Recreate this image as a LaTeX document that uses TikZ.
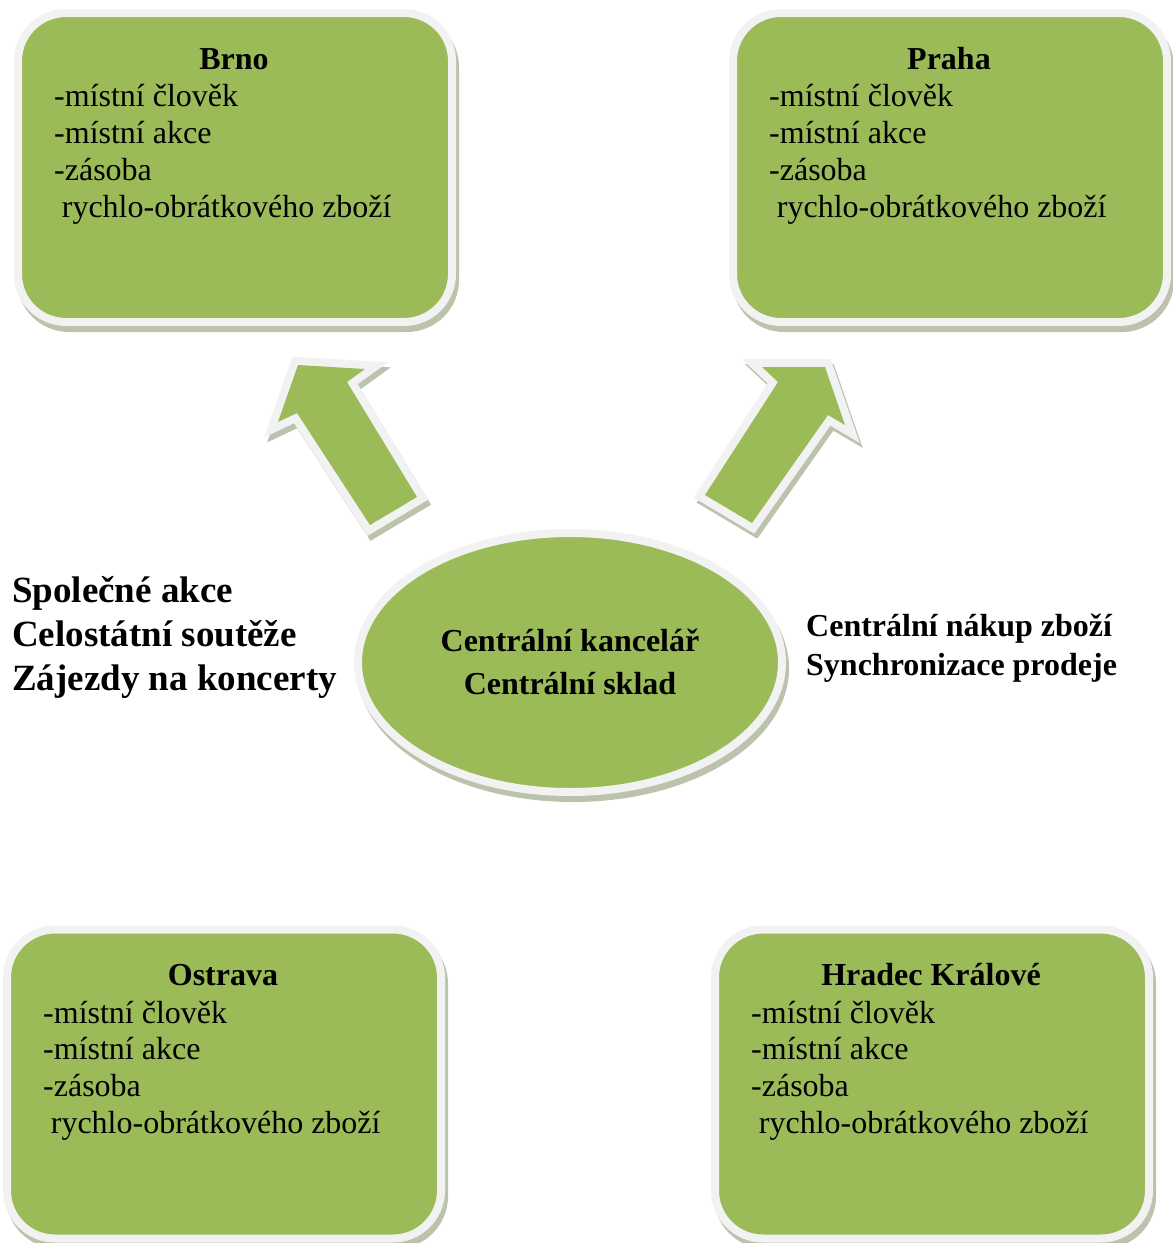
\documentclass[tikz,border=0pt]{standalone}
\usepackage{fontspec}
\setmainfont{Liberation Serif}
\usetikzlibrary{shapes.geometric,shadows}
\definecolor{cgreen}{HTML}{9BBB59}
\definecolor{cborder}{HTML}{F2F2F2}
\definecolor{cshadow}{HTML}{BCC3AD}
\begin{document}
\begin{tikzpicture}[x=1pt,y=-1pt,
  shadowed/.style={general shadow={fill=cshadow, draw=cshadow, line width=8pt, shadow xshift=3pt, shadow yshift=-6pt}},
  cbox/.style={rectangle, rounded corners=48pt, fill=cgreen, draw=cborder, line width=8pt,
    minimum width=434pt, minimum height=309pt, inner sep=0pt, shadowed},
  cell/.style={ellipse, fill=cgreen, draw=cborder, line width=8pt,
    minimum width=424pt, minimum height=259pt, inner sep=0pt, shadowed},
  ttl/.style={inner sep=0pt, anchor=base, font=\fontsize{32}{36.5}\selectfont\bfseries},
  body/.style={inner sep=0pt, anchor=base west, align=left, font=\fontsize{32}{36.8}\selectfont},
  side/.style={inner sep=0pt, anchor=base west, align=left},
  larrow/.style={insert path={(298,365)--(365,369)--(347,382)--(417,497)--(370,525)--(297,413)--(278,422)--cycle}},
  rarrow/.style={insert path={(825,367)--(845,425)--(828,415)--(752,523)--(705,495)--(778,382)--(762,367)--cycle}},
  arrowborder/.style={draw=cborder, line width=16pt, line join=miter},
  arrowshadow/.style={fill=cshadow, draw=cshadow, line width=16pt, line join=miter}
]
\useasboundingbox (0,0) rectangle (1173,1243);

% arrows
\begin{scope}[shift={(3,5)}]
  \path[arrowshadow, larrow];
  \path[arrowshadow, rarrow];
\end{scope}
\path[arrowborder, larrow];
\path[fill=cgreen, larrow];
\path[arrowborder, rarrow];
\path[fill=cgreen, rarrow];

% boxes
\node[cbox] (brno) at (235,167.5) {};
\node[cbox] (praha) at (950,167.5) {};
\node[cbox] (ostrava) at (224,1084) {};
\node[cbox] (hradec) at (932,1084) {};

% multi-line nodes: base anchor = baseline of the last line
\foreach \b/\t in {brno/Brno, praha/Praha, ostrava/Ostrava, hradec/Hradec Králové}{
  \node[ttl] (\b-title) at ([xshift=-1pt, yshift=-60pt]\b.north) {\t};
  \node[body] (\b-body) at ([xshift=40pt, yshift=-208pt]\b.north west)
    {-místní člověk\\-místní akce\\-zásoba\\\hspace*{0.24em}rychlo-obrátkového zboží};
}

% central ellipse
\node[cell] (center) at (570,662.5) {};
\node[inner sep=0pt, anchor=base, align=center, font=\fontsize{32}{43}\selectfont\bfseries]
  (center-text) at (570,694) {Centrální kancelář\\Centrální sklad};

% side texts
\node[side, font=\fontsize{37}{43.8}\selectfont\bfseries] (lefttext) at (12,690)
  {Společné akce\\Celostátní soutěže\\Zájezdy na koncerty};
\node[side, font=\fontsize{32}{39}\selectfont\bfseries] (righttext) at (806,675)
  {Centrální nákup zboží\\Synchronizace prodeje};
\end{tikzpicture}
\end{document}
